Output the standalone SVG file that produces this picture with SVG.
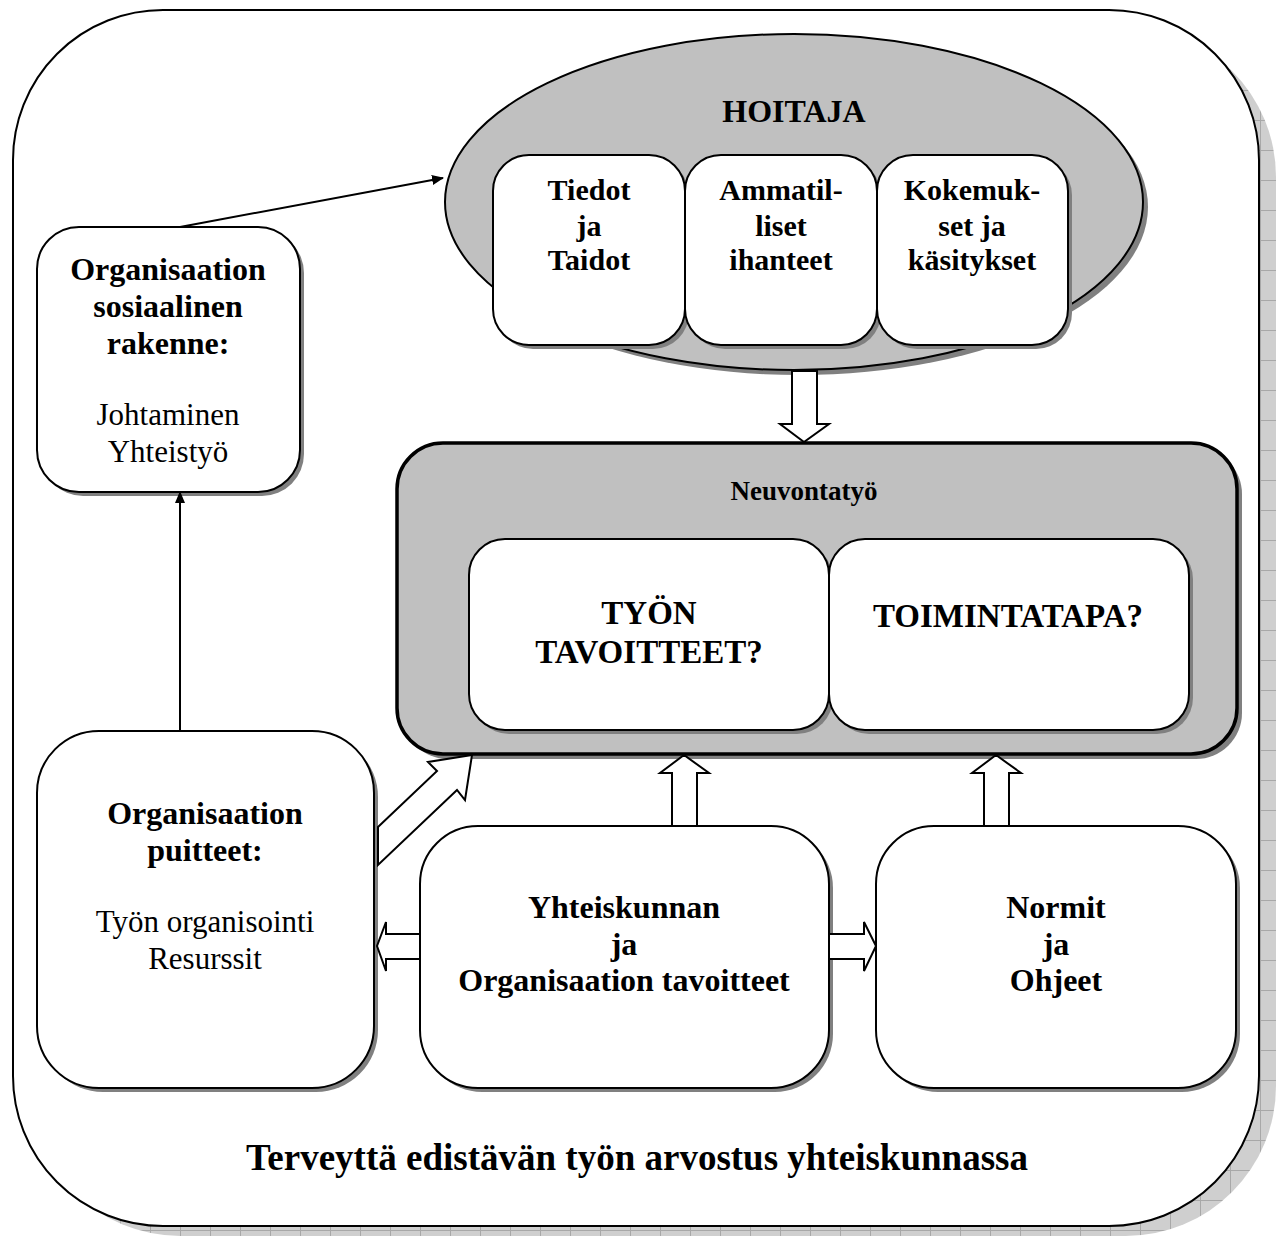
<svg xmlns="http://www.w3.org/2000/svg" width="1284" height="1237" viewBox="0 0 1284 1237">
<defs>
<pattern id="grid" width="30" height="30" patternUnits="userSpaceOnUse">
<rect width="30" height="30" fill="#cfcfcf"/>
<path d="M0 0.5H30M0.5 0V30" stroke="#a8a8a8" stroke-width="1"/>
</pattern>
<marker id="ah" markerWidth="12" markerHeight="10" refX="11" refY="5" orient="auto" markerUnits="userSpaceOnUse">
<path d="M0 0L12 5L0 10z" fill="#000"/>
</marker>
<style>
.box{fill:#fff;stroke:#000;stroke-width:2}
.shd{fill:#808080}
.gbox{fill:#c0c0c0;stroke:#000;stroke-width:2}
.blk{fill:#fff;stroke:#000;stroke-width:2;stroke-linejoin:miter}
.b{font-family:"Liberation Serif","Times New Roman",serif;font-weight:bold;fill:#000;text-anchor:middle}
.n{font-family:"Liberation Serif","Times New Roman",serif;fill:#000;text-anchor:middle}
.line{stroke:#000;stroke-width:2;fill:none}
</style>
</defs>
<rect width="1284" height="1237" fill="#fff"/>

<g id="frame">
<rect x="30" y="27" width="1246" height="1209" rx="150" fill="url(#grid)"/>
<rect x="13" y="10" width="1246" height="1216" rx="150" fill="#fff" stroke="#000" stroke-width="2"/>
<text class="b" x="637" y="1170" font-size="37">Terveyttä edistävän työn arvostus yhteiskunnassa</text>
</g>

<g id="hoitaja">
<ellipse cx="799" cy="207" rx="349" ry="168" class="shd"/>
<ellipse cx="794" cy="202" rx="349" ry="168" class="gbox"/>
<text class="b" x="794" y="122" font-size="32">HOITAJA</text>
</g>

<g id="tiedot">
<rect x="497" y="159" width="192" height="190" rx="36" class="shd"/>
<rect x="493" y="155" width="192" height="190" rx="36" class="box"/>
<text class="b" x="589" y="200" font-size="30">Tiedot</text>
<text class="b" x="589" y="236" font-size="30">ja</text>
<text class="b" x="589" y="270" font-size="30">Taidot</text>
</g>
<g id="ammatilliset">
<rect x="689" y="159" width="192" height="190" rx="36" class="shd"/>
<rect x="685" y="155" width="192" height="190" rx="36" class="box"/>
<text class="b" x="781" y="200" font-size="30">Ammatil-</text>
<text class="b" x="781" y="236" font-size="30">liset</text>
<text class="b" x="781" y="270" font-size="30">ihanteet</text>
</g>
<g id="kokemukset">
<rect x="881" y="159" width="191" height="190" rx="36" class="shd"/>
<rect x="877" y="155" width="191" height="190" rx="36" class="box"/>
<text class="b" x="972" y="200" font-size="30">Kokemuk-</text>
<text class="b" x="972" y="236" font-size="30">set ja</text>
<text class="b" x="972" y="270" font-size="30">käsitykset</text>
</g>

<g id="sosiaalinen">
<rect x="41" y="231" width="263" height="265" rx="42" class="shd"/>
<rect x="37" y="227" width="263" height="265" rx="42" class="box"/>
<text class="b" x="168" y="280" font-size="32">Organisaation</text>
<text class="b" x="168" y="317" font-size="32">sosiaalinen</text>
<text class="b" x="168" y="354" font-size="32">rakenne:</text>
<text class="n" x="168" y="425" font-size="31">Johtaminen</text>
<text class="n" x="168" y="462" font-size="31">Yhteistyö</text>
</g>

<g id="neuvontatyo">
<rect x="402" y="448" width="840" height="311" rx="46" class="shd"/>
<rect x="397" y="443" width="840" height="311" rx="46" fill="#c0c0c0" stroke="#000" stroke-width="3.5"/>
<text class="b" x="804" y="500" font-size="27">Neuvontatyö</text>
</g>
<g id="tavoitteet">
<rect x="473" y="543" width="360" height="191" rx="36" class="shd"/>
<rect x="469" y="539" width="360" height="191" rx="36" class="box"/>
<text class="b" x="649" y="624" font-size="33">TYÖN</text>
<text class="b" x="649" y="663" font-size="33">TAVOITTEET?</text>
</g>
<g id="toimintatapa">
<rect x="833" y="543" width="360" height="191" rx="36" class="shd"/>
<rect x="829" y="539" width="360" height="191" rx="36" class="box"/>
<text class="b" x="1008" y="627" font-size="33">TOIMINTATAPA?</text>
</g>

<g id="puitteet">
<rect x="41" y="735" width="337" height="357" rx="62" class="shd"/>
<rect x="37" y="731" width="337" height="357" rx="62" class="box"/>
<text class="b" x="205" y="824" font-size="32">Organisaation</text>
<text class="b" x="205" y="861" font-size="32">puitteet:</text>
<text class="n" x="205" y="932" font-size="31">Työn organisointi</text>
<text class="n" x="205" y="969" font-size="31">Resurssit</text>
</g>

<g id="yhteiskunnan">
<rect x="424" y="830" width="409" height="262" rx="58" class="shd"/>
<rect x="420" y="826" width="409" height="262" rx="58" class="box"/>
<text class="b" x="624" y="918" font-size="32">Yhteiskunnan</text>
<text class="b" x="624" y="955" font-size="32">ja</text>
<text class="b" x="624" y="991" font-size="32">Organisaation tavoitteet</text>
</g>

<g id="normit">
<rect x="880" y="830" width="360" height="262" rx="58" class="shd"/>
<rect x="876" y="826" width="360" height="262" rx="58" class="box"/>
<text class="b" x="1056" y="918" font-size="32">Normit</text>
<text class="b" x="1056" y="955" font-size="32">ja</text>
<text class="b" x="1056" y="991" font-size="32">Ohjeet</text>
</g>

<g id="connectors">
<line x1="180" y1="227" x2="443" y2="178" class="line" marker-end="url(#ah)"/>
<line x1="180" y1="731" x2="180" y2="492" class="line" marker-end="url(#ah)"/>
<polygon class="blk" points="792,371 817,371 817,424 829,424 804,442 780,424 792,424"/>
<polygon class="blk" points="672,826 672,773 660,773 684,755 709,773 697,773 697,826"/>
<polygon class="blk" points="984,826 984,773 972,773 996,755 1021,773 1009,773 1009,826"/>
<polygon class="blk" points="420,934 386,934 386,922 377,946 386,971 386,959 420,959"/>
<polygon class="blk" points="829,934 864,934 864,922 876,946 864,971 864,959 829,959"/>
<polygon class="blk" points="378,827 437,771 428,762 472,755 465,800 457,790 378,865"/>
</g>
</svg>
